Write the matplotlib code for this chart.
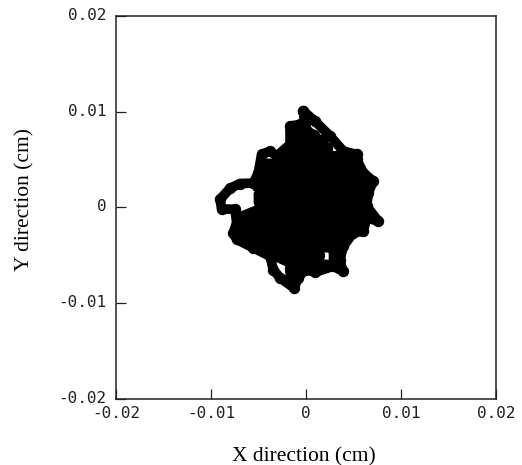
"""
Probe tip trajectory in the X-Y plane.
"""

import matplotlib
matplotlib.use("Agg")
import matplotlib.pyplot as plt
from matplotlib.transforms import ScaledTranslation

# outer trace first, then the dense scribble that fills the middle (cm)
x_cm = [
    -0.00028, 0.00095, 0.00253, 0.00393, 0.00533, 0.00533, 0.00604, 0.00709, 0.00656, 0.00639,
    0.00761, 0.00639, 0.00604, 0.00498, 0.00393, 0.00358, 0.00386, 0.00288, 0.00095, -0.00011,
    -0.00081, -0.00126, -0.00274, -0.00344, -0.00379, -0.00554, -0.00730, -0.00765, -0.00730, -0.00747,
    -0.00888, -0.00905, -0.00800, -0.00695, -0.00554, -0.00502, -0.00467, -0.00379, -0.00309, -0.00168,
    -0.00168, -0.00063, 0.00007, -0.00028, 0.00007, 0.00080, -0.00120, -0.00120, 0.00150, 0.00220, -0.00120,
    -0.00280, 0.00340, 0.00460, -0.00450, -0.00470, 0.00520, 0.00620, -0.00480, -0.00520, 0.00630,
    0.00600, -0.00500, -0.00500, 0.00580, 0.00580, -0.00500, -0.00700, 0.00560, 0.00540, -0.00700,
    -0.00700, 0.00500, 0.00360, -0.00660, -0.00520, 0.00340, 0.00290, 0.00290, 0.00140, 0.00140,
    -0.00340, -0.00170, 0.00120, 0.00200, -0.00170, -0.00160,
]
y_cm = [
    0.01007, 0.00902, 0.00746, 0.00589, 0.00554, 0.00502, 0.00362, 0.00275, 0.00153, 0.00014,
    -0.00143, -0.00108, -0.00247, -0.00265, -0.00404, -0.00544, -0.00666, -0.00613, -0.00676, -0.00648,
    -0.00735, -0.00840, -0.00735, -0.00648, -0.00509, -0.00422, -0.00334, -0.00265, -0.00160, -0.00020,
    -0.00014, 0.00084, 0.00200, 0.00250, 0.00255, 0.00362, 0.00554, 0.00589, 0.00537, 0.00659,
    0.00850, 0.00868, 0.00798, 0.01007, 0.00798, 0.00760, 0.00780, 0.00700, 0.00710, 0.00620, 0.00620,
    0.00540, 0.00540, 0.00460, 0.00460, 0.00380, 0.00380, 0.00300, 0.00300, 0.00220, 0.00220,
    0.00140, 0.00140, 0.00060, 0.00060, -0.00020, -0.00020, -0.00100, -0.00100, -0.00180, -0.00180,
    -0.00260, -0.00260, -0.00340, -0.00340, -0.00420, -0.00420, -0.00460, -0.00600, -0.00590, -0.00500,
    -0.00500, -0.00580, -0.00580, -0.00620, -0.00640, -0.00760,
]

ticks = [-0.02, -0.01, 0, 0.01, 0.02]
tick_labels = ["-0.02", "-0.01", "0", "0.01", "0.02"]


def main() -> None:
    fig = plt.figure(figsize=(5.22, 4.65), dpi=100)
    ax = fig.add_axes([116 / 522, 66 / 465, 380 / 522, 383 / 465])

    ax.plot(x_cm, y_cm, color="black", linewidth=7, marker="o", markersize=7.2,
            solid_joinstyle="round", solid_capstyle="round")

    ax.set_xlim(-0.02, 0.02)
    ax.set_ylim(-0.02, 0.02)
    ax.set_xticks(ticks)
    ax.set_yticks(ticks)
    ax.set_xticklabels(tick_labels, family="DejaVu Sans Mono", fontsize=11.5, color="#222222")
    ax.set_yticklabels(tick_labels, family="DejaVu Sans Mono", fontsize=11.5, color="#222222")
    ax.tick_params(direction="in", length=7.2, width=0.9, color="#222222")
    ax.tick_params(axis="y", pad=7)
    ax.tick_params(axis="x", pad=5)

    # y tick labels sit a little above their ticks in the original
    nudge = ScaledTranslation(0, 1.5 / 72, fig.dpi_scale_trans)
    for label in ax.get_yticklabels():
        label.set_transform(label.get_transform() + nudge)

    for spine in ax.spines.values():
        spine.set_linewidth(1.1)
        spine.set_color("#222222")

    ax.set_xlabel("X direction (cm)", family="Liberation Serif", fontsize=15.5)
    ax.set_ylabel("Y direction (cm)", family="Liberation Serif", fontsize=15.5)
    # label positions in axes fractions
    ax.xaxis.set_label_coords(0.495, -0.126)
    ax.yaxis.set_label_coords(-0.215, 0.522)

    fig.savefig("out.png", dpi=100)
    plt.close(fig)


if __name__ == "__main__":
    main()
